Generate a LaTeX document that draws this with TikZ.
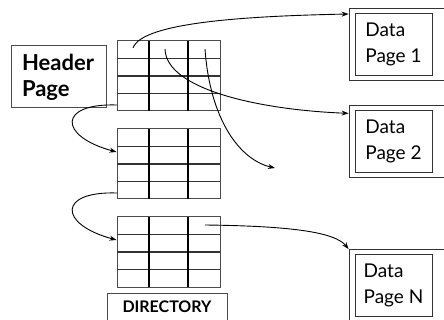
\documentclass[tikz,border=0pt]{standalone}
\usepackage{fontspec}
\setmainfont{Lato}
\usetikzlibrary{arrows.meta}

\tikzset{
  link/.style={line width=0.9pt,-{Stealth[length=7pt,width=5pt]}},
  gridbox/.style={draw=black!70,line width=1pt,minimum width=103pt,minimum height=70pt,inner sep=0pt},
  hline/.style={draw=black!80,line width=1.4pt},
  vline/.style={draw=black,line width=1.2pt},
  hdrbox/.style={draw=black!70,line width=1pt,align=left,text width=73pt,inner xsep=11pt,
    minimum height=62pt,font=\fontsize{22}{26}\selectfont\bfseries},
  pagebox/.style={draw=black!80,line width=0.8pt,align=left,minimum width=77pt,
    minimum height=62pt,inner sep=0pt,font=\fontsize{19}{26}\selectfont},
  pageframe/.style={draw=black!80,line width=0.8pt,minimum width=99pt,minimum height=72pt,inner sep=0pt},
  dirbox/.style={draw=black!70,line width=1pt,minimum width=120pt,minimum height=28pt,
    font=\fontsize{16}{18}\selectfont\bfseries}
}

\begin{document}
\begin{tikzpicture}[x=1pt,y=-1pt]
  \useasboundingbox (0,0) rectangle (444,320);

  % directory pages
  \foreach \top/\g in {41/dir1,129/dir2,217/dir3} {
    \node[gridbox] (\g) at (168.5,\top+35) {};
    \foreach \k in {1,2,3}
      \draw[hline] (117,\top+17.5*\k) -- (220,\top+17.5*\k);
    \draw[vline] (149,\top) -- (149,\top+70);
    \draw[vline] (188,\top) -- (188,\top+70);
  }

  \node[hdrbox] (header) at (58.5,77) {Header\\Page};
  \node[dirbox] (dirlabel) at (167,307) {DIRECTORY};

  % data pages
  \node[pageframe] (dp1o) at (398.5,44) {};
  \node[pagebox] (dp1) at (393.5,44) {Data\\Page 1};
  \node[pageframe] (dp2o) at (398.5,141) {};
  \node[pagebox] (dp2) at (393.5,141) {Data\\Page 2};
  \node[pageframe] (dpNo) at (398.5,285.5) {};
  \node[pagebox] (dpN) at (393.5,285.5) {Data\\Page N};

  % entries
  \coordinate (e1) at (133,48);
  \coordinate (e2) at (165,49);
  \coordinate (e3) at (205,49);
  \coordinate (e3end) at (275,168);
  \coordinate (n1) at (117,105);
  \coordinate (n2) at (117,193);
  \coordinate (eN) at (205,225);

  \draw[link] (e1) .. controls (142,22) and (250,16) .. (dp1o.149);
  \draw[link] (e2) .. controls (166,90) and (262,110) .. (dp2o.151);
  \draw[link] (e3) .. controls (210,120) and (240,160) .. (e3end);
  \draw[link] (n1) .. controls (58,103) and (58,136) .. (dir2.167);
  \draw[link] (n2) .. controls (58,191) and (58,224) .. (dir3.167);
  \draw[link] (eN) .. controls (290,226) and (335,232) .. (dpNo.north west);
\end{tikzpicture}
\end{document}
